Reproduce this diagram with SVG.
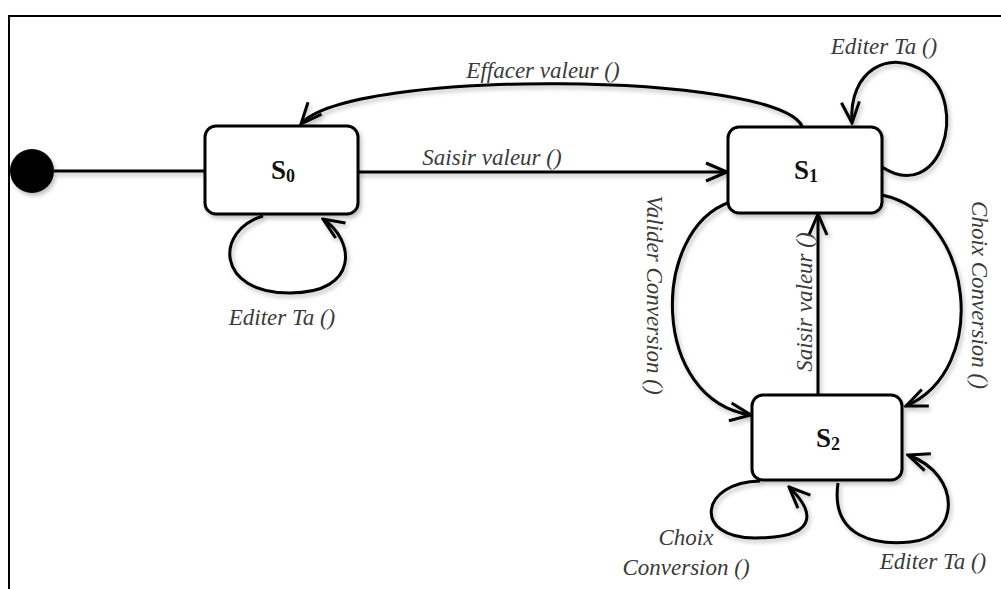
<svg xmlns="http://www.w3.org/2000/svg" width="1001" height="589" viewBox="0 0 1001 589">
  <style>
    .box { fill: #ffffff; stroke: #000; stroke-width: 3; }
    .edge { fill: none; stroke: #000; stroke-width: 3; }
    .lbl { font-family: "Liberation Serif", "Times New Roman", serif; font-style: italic; font-size: 23px; fill: #3a3a3a; }
    .st { font-family: "Liberation Serif", "Times New Roman", serif; font-weight: bold; font-size: 27px; fill: #111; }
    .sub { font-size: 18px; }
  </style>
  <defs>
    <filter id="sh" x="-20%" y="-20%" width="140%" height="140%">
      <feDropShadow dx="2" dy="3" stdDeviation="2" flood-color="#000" flood-opacity="0.25"/>
    </filter>
    <marker id="arr" viewBox="0 -11 24 22" refX="22" refY="0" markerWidth="24" markerHeight="22" markerUnits="userSpaceOnUse" orient="auto">
      <path d="M1,-9 L22,0 L1,9" fill="none" stroke="#000" stroke-width="3" stroke-linejoin="miter"/>
    </marker>
  </defs>
  <rect width="1001" height="589" fill="#fff"/>
  <path d="M9,589 L9,16 L1001,16" fill="none" stroke="#000" stroke-width="2"/>

  <g id="connectors" filter="url(#sh)">
    <line class="edge" x1="54" y1="171" x2="205" y2="171"/>
    <line class="edge" x1="358" y1="172" x2="727" y2="172" marker-end="url(#arr)"/>
    <path class="edge" d="M802,126 C775,72 350,68 301,124" marker-end="url(#arr)"/>
    <path class="edge" d="M882,167 C940,205 970,105 925,72 C890,48 848,70 852,123" marker-end="url(#arr)"/>
    <path class="edge" d="M730,202 C650,230 650,400 751,415" marker-end="url(#arr)"/>
    <path class="edge" d="M882,195 C975,215 990,370 906,406" marker-end="url(#arr)"/>
    <line class="edge" x1="818" y1="395" x2="818" y2="214" marker-end="url(#arr)"/>
    <path class="edge" d="M263,216 C215,230 215,293 290,293 C360,293 355,240 323,219" marker-end="url(#arr)"/>
    <path class="edge" d="M760,481 C700,482 692,538 755,538 C815,538 818,515 789,487" marker-end="url(#arr)"/>
    <path class="edge" d="M838,483 C830,540 880,545 910,542 C960,538 963,475 908,455" marker-end="url(#arr)"/>
  </g>

  <g id="init">
    <circle cx="32" cy="171" r="22" fill="#000" filter="url(#sh)"/>
  </g>

  <g id="S0">
    <rect class="box" x="205" y="126" width="153" height="88" rx="11" filter="url(#sh)"/>
    <text class="st" x="283" y="179" text-anchor="middle">S<tspan class="sub" dy="3">0</tspan></text>
  </g>
  <g id="S1">
    <rect class="box" x="728" y="127" width="154" height="86" rx="11" filter="url(#sh)"/>
    <text class="st" x="806" y="179" text-anchor="middle">S<tspan class="sub" dy="3">1</tspan></text>
  </g>
  <g id="S2">
    <rect class="box" x="752" y="395" width="150" height="85" rx="11" filter="url(#sh)"/>
    <text class="st" x="828" y="447" text-anchor="middle">S<tspan class="sub" dy="3">2</tspan></text>
  </g>

  <g id="labels">
    <text class="lbl" x="543" y="78" text-anchor="middle">Effacer valeur ()</text>
    <text class="lbl" x="492" y="165" text-anchor="middle">Saisir valeur ()</text>
    <text class="lbl" x="884" y="54" text-anchor="middle">Editer Ta ()</text>
    <text class="lbl" x="282" y="325" text-anchor="middle">Editer Ta ()</text>
    <text class="lbl" text-anchor="middle" dominant-baseline="central" transform="translate(654,295) rotate(90)">Valider Conversion ()</text>
    <text class="lbl" text-anchor="middle" dominant-baseline="central" transform="translate(979,295) rotate(90)">Choix Conversion ()</text>
    <text class="lbl" text-anchor="middle" dominant-baseline="central" transform="translate(804,302) rotate(-90)">Saisir valeur ()</text>
    <text class="lbl" x="686" y="545" text-anchor="middle">Choix</text>
    <text class="lbl" x="686" y="575" text-anchor="middle">Conversion ()</text>
    <text class="lbl" x="933" y="569" text-anchor="middle">Editer Ta ()</text>
  </g>
</svg>
